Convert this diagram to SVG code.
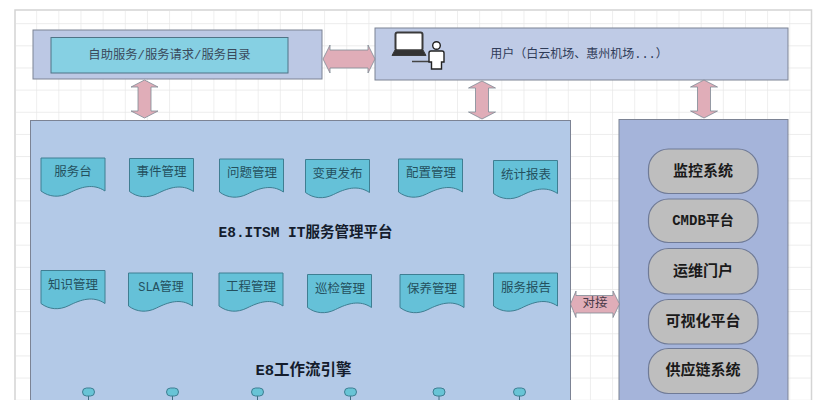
<svg xmlns="http://www.w3.org/2000/svg" width="825" height="400" viewBox="0 0 825 400" font-family="'Liberation Mono','Noto Sans CJK SC',monospace">
<defs>
<pattern id="grid" x="15" y="2" width="22.15" height="22.15" patternUnits="userSpaceOnUse"><path d="M22 0V22.15M0 22H22.15" fill="none" stroke="#e6e6e6" stroke-width="1"/></pattern>
<path id="wave" d="M0 0H64V33C52 25 40 29 28 35C18 40 8 39 0 33Z"/>
<path id="hArrow" d="M0 14L7 0V5H45V0L52 14L45 28V23H7V28Z"/>
<path id="vArrow" d="M13.5 0L27 7H20V31H27L13.5 38L0 31H7V7H0Z"/>
</defs>
<style>
.band{stroke:#7c8394;stroke-width:1}
.doc{fill:#65c1d8;stroke:#3f7e92;stroke-width:1}
.pill{fill:#bebebe;stroke:#6f7a96;stroke-width:1.2}
.arrow{fill:#e0adb8;stroke:#7d8a96;stroke-width:.8}
.mini{fill:#68c4d6;stroke:#3f7e92;stroke-width:1}
.line{stroke:#3f6e82;stroke-width:1;fill:none}
text{text-anchor:middle}
.d{font-size:12.5px;fill:#24505e}
.p{font-size:15px;font-weight:700;fill:#1a1a1a}
.t{font-size:14.5px;font-weight:700;fill:#141c2c}
.u{font-size:12px;fill:#2f3c58}
</style>
<rect width="825" height="400" fill="#fff"/>
<g id="canvas">
<rect x="15" y="10" width="796.500" height="395" fill="#fff" stroke="#d4d4d4" stroke-width="1.500"/>
<rect x="16" y="11" width="795" height="389" fill="url(#grid)"/>
</g>
<g id="self-service">
<rect class="band" x="33" y="30" width="289" height="49" fill="#bcc8e4"/>
<rect x="51" y="37.500" width="237" height="35.500" fill="#86d0e3" stroke="#4f7386"/>
<text x="169.500" y="59" font-size="12.300" fill="#3a4a5c">自助服务/服务请求/服务目录</text>
</g>
<g id="user">
<rect class="band" x="375" y="28" width="413" height="52" fill="#bfcbe6"/>
<rect x="395.500" y="32.500" width="27" height="18" rx="2" fill="#fff" stroke="#3a3a3a" stroke-width="2"/>
<path d="M395 50H423L426 55.500H392Z" fill="#333" stroke="#3a3a3a"/>
<path d="M412 61.500H430" stroke="#444" stroke-width="1.500"/>
<circle cx="436.500" cy="45.500" r="3.800" fill="#fff" stroke="#222" stroke-width="1.400"/>
<path d="M431 51H442Q444 51 444 53V62H441.500V69H431.500V62H429V53Q429 51 431 51Z" fill="#fff" stroke="#222" stroke-width="1.400"/>
<text class="u" x="579" y="58">用户（白云机场、惠州机场...）</text>
</g>
<g id="itsm">
<rect class="band" x="30.500" y="120.500" width="540" height="290" fill="#b3c9e7"/>
<text class="t" x="305.500" y="237">E8.ITSM IT服务管理平台</text>
<text class="t" x="303.500" y="375" style="font-size:15.500px">E8工作流引擎</text>
</g>
<g id="external">
<rect class="band" x="619" y="119.500" width="169" height="290" fill="#a5b4da"/>
</g>
<g id="doc-1"><use href="#wave" class="doc" x="41" y="158"/><text class="d" x="73" y="176">服务台</text></g>
<g id="doc-2"><use href="#wave" class="doc" x="129.500" y="158.500"/><text class="d" x="161.500" y="176">事件管理</text></g>
<g id="doc-3"><use href="#wave" class="doc" x="219.500" y="159"/><text class="d" x="252" y="177">问题管理</text></g>
<g id="doc-4"><use href="#wave" class="doc" x="305.500" y="159.500"/><text class="d" x="337.500" y="178">变更发布</text></g>
<g id="doc-5"><use href="#wave" class="doc" x="398.500" y="159"/><text class="d" x="431" y="177">配置管理</text></g>
<g id="doc-6"><use href="#wave" class="doc" x="493.500" y="160.500"/><text class="d" x="526" y="179">统计报表</text></g>
<g id="doc-7"><use href="#wave" class="doc" x="41" y="270.500"/><text class="d" x="73" y="289">知识管理</text></g>
<g id="doc-8"><use href="#wave" class="doc" x="128.500" y="273"/><text class="d" x="161" y="291" style="font-size:12px">SLA管理</text></g>
<g id="doc-9"><use href="#wave" class="doc" x="219" y="273"/><text class="d" x="251" y="291">工程管理</text></g>
<g id="doc-10"><use href="#wave" class="doc" x="307.500" y="274.500"/><text class="d" x="340" y="293">巡检管理</text></g>
<g id="doc-11"><use href="#wave" class="doc" x="400" y="274.500"/><text class="d" x="432" y="293">保养管理</text></g>
<g id="doc-12"><use href="#wave" class="doc" x="493.500" y="273"/><text class="d" x="526" y="292">服务报告</text></g>
<g id="pill-1"><rect class="pill" x="648.500" y="149" width="109.500" height="44.500" rx="20"/><text class="p" x="703" y="176">监控系统</text></g>
<g id="pill-2"><rect class="pill" x="648.500" y="199" width="109.500" height="43.500" rx="20"/><text class="p" x="703" y="225" style="font-size:14px">CMDB平台</text></g>
<g id="pill-3"><rect class="pill" x="648.500" y="248.500" width="109.500" height="45.500" rx="20"/><text class="p" x="703" y="276">运维门户</text></g>
<g id="pill-4"><rect class="pill" x="648.500" y="299.500" width="109.500" height="44.500" rx="20"/><text class="p" x="703" y="326">可视化平台</text></g>
<g id="pill-5"><rect class="pill" x="648.500" y="348.500" width="109.500" height="45" rx="20"/><text class="p" x="703" y="375">供应链系统</text></g>
<g id="connectors">
<use href="#hArrow" class="arrow" x="323" y="45"/>
<use href="#vArrow" class="arrow" x="131" y="80"/>
<use href="#vArrow" class="arrow" x="468.500" y="81"/>
<use href="#vArrow" class="arrow" x="690.500" y="80"/>
<path class="arrow" d="M570.500 304L576 291V295.500H613V291L619.500 304L613 317.500V313H576V317.500Z"/>
<path class="line" d="M88.500 396V400M172.500 396V400M257.500 396V400M350.500 396V400M439 396V400M519.500 396V400"/>
</g>
<g id="bridge-label"><text class="d" x="595" y="307" style="fill:#4a3a48">对接</text></g>
<g id="mini-1"><rect class="mini" x="82.500" y="388" width="12" height="8" rx="4"/></g>
<g id="mini-2"><rect class="mini" x="166.500" y="388" width="12" height="8" rx="4"/></g>
<g id="mini-3"><rect class="mini" x="251.500" y="388" width="12" height="8" rx="4"/></g>
<g id="mini-4"><rect class="mini" x="344.500" y="388" width="12" height="8" rx="4"/></g>
<g id="mini-5"><rect class="mini" x="433" y="388" width="12" height="8" rx="4"/></g>
<g id="mini-6"><rect class="mini" x="513.500" y="388" width="12" height="8" rx="4"/></g>
</svg>
